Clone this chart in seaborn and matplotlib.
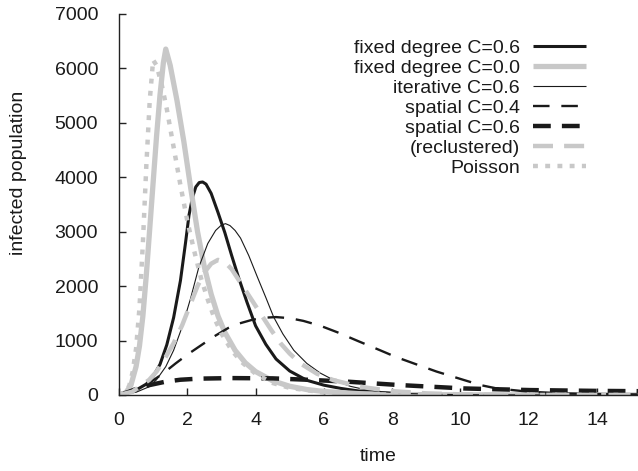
import matplotlib
matplotlib.use("Agg")
import matplotlib.pyplot as plt
import seaborn as sns

# ---- data ----
fd06_t = [0, 0.5, 0.8, 1.0, 1.2, 1.4, 1.6, 1.8, 1.95, 2.05, 2.15, 2.25, 2.35, 2.45, 2.55, 2.7, 2.9, 3.1,
          3.3, 3.5, 3.75, 4.0, 4.3, 4.6, 5.0, 5.5, 6.0, 6.5, 7.0, 8.0, 9.0, 10.0, 12.0, 15.2]
fd06_y = [0, 90, 200, 340, 560, 920, 1420, 2100, 2800, 3300, 3620, 3820, 3900, 3910, 3870, 3700, 3350, 2980,
          2560, 2160, 1700, 1270, 930, 660, 440, 270, 180, 120, 75, 30, 12, 4, 0, 0]

fd00_t = [0, 0.2, 0.35, 0.5, 0.6, 0.7, 0.8, 0.9, 1.0, 1.1, 1.2, 1.3, 1.37, 1.5, 1.7, 1.9, 2.1, 2.3, 2.5,
          2.7, 2.9, 3.1, 3.4, 3.7, 4.0, 4.5, 5.0, 5.5, 6.0, 7.0, 8.0, 10.0, 15.2]
fd00_y = [0, 40, 180, 520, 900, 1450, 2200, 3050, 3900, 4750, 5500, 6100, 6350, 6050, 5400, 4650, 3800, 3000, 2350,
          1850, 1450, 1150, 820, 590, 430, 260, 160, 100, 65, 25, 10, 2, 0]

it06_t = [0, 0.5, 0.88, 1.1, 1.37, 1.6, 1.85, 2.1, 2.34, 2.6, 2.83, 3.0, 3.12, 3.25, 3.4, 3.56, 3.8, 4.05,
          4.3, 4.53, 4.8, 5.12, 5.5, 5.9, 6.3, 6.77, 7.2, 7.7, 8.5, 10.0, 12.0, 15.2]
it06_y = [0, 50, 150, 280, 520, 820, 1250, 1780, 2350, 2780, 3020, 3120, 3145, 3110, 3020, 2880, 2560, 2170,
          1790, 1430, 1120, 820, 580, 400, 270, 160, 100, 60, 25, 5, 0, 0]

sp04_t = [0, 0.5, 0.88, 1.3, 1.66, 2.0, 2.34, 2.8, 3.2, 3.51, 3.9, 4.3, 4.6, 5.0, 5.4, 5.9, 6.4, 7.0,
          7.65, 8.1, 8.63, 9.3, 10.1, 10.6, 11.06, 12.0, 13.0, 14.0, 15.2]
sp04_y = [0, 90, 215, 400, 580, 740, 885, 1080, 1230, 1310, 1380, 1420, 1430, 1410, 1360, 1270, 1150, 990,
          820, 700, 580, 430, 275, 180, 120, 60, 30, 18, 10]

sp06_t = [0, 0.3, 0.5, 0.88, 1.37, 1.8, 2.34, 3.3, 4.5, 5.5, 6.68, 8.14, 10.1, 12.04, 14.0, 15.2]
sp06_y = [0, 60, 110, 180, 245, 280, 300, 310, 305, 280, 245, 185, 120, 90, 75, 70]

recl_t = [0, 0.39, 0.88, 1.1, 1.37, 1.6, 1.85, 2.1, 2.3, 2.5, 2.7, 2.9, 3.1, 3.3, 3.56, 3.85, 4.14, 4.45,
          4.73, 5.0, 5.31, 5.8, 6.29, 7.07, 8.0, 9.0, 10.0, 12.0, 15.2]
recl_y = [0, 60, 275, 430, 700, 950, 1280, 1680, 2000, 2250, 2410, 2480, 2440, 2310, 2060, 1780, 1500, 1200,
          950, 760, 580, 390, 270, 150, 70, 30, 12, 2, 0]

pois_t = [0, 0.2, 0.3, 0.4, 0.5, 0.6, 0.7, 0.8, 0.9, 1.0, 1.1, 1.25, 1.4, 1.6, 1.8, 2.0, 2.2, 2.4, 2.6,
          2.8, 3.0, 3.3, 3.6, 4.0, 4.5, 5.0, 6.0, 7.0, 8.0, 10.0, 15.2]
pois_y = [0, 60, 170, 420, 850, 1600, 2800, 4200, 5400, 6150, 6050, 5700, 5250, 4550, 3850, 3200, 2650, 2150, 1750,
          1400, 1130, 820, 600, 390, 220, 130, 45, 15, 5, 1, 0]

labels = ["fixed degree C=0.6", "fixed degree C=0.0", "iterative C=0.6",
          "spatial C=0.4", "spatial C=0.6", "(reclustered)", "Poisson"]
x_ticks = [0, 2, 4, 6, 8, 10, 12, 14]
y_ticks = [0, 1000, 2000, 3000, 4000, 5000, 6000, 7000]

# ---- style ----
sns.set_style("ticks")
plt.rcParams['font.family'] = ['Liberation Sans', 'DejaVu Sans']
BLACK = "#1a1a1a"
GREY = "#c8c8c8"

series = [
    (fd06_t, fd06_y, BLACK, 2.2, None),
    (fd00_t, fd00_y, GREY, 3.8, None),
    (it06_t, it06_y, BLACK, 0.8, None),
    (sp04_t, sp04_y, BLACK, 1.7, (7, 5)),
    (sp06_t, sp06_y, BLACK, 3.2, (4, 2.5)),
    (recl_t, recl_y, GREY, 3.2, (4.5, 2.5)),
    (pois_t, pois_y, GREY, 3.2, (1.1, 1.65)),
]

fig = plt.figure(figsize=(6.38, 4.71), dpi=100)
ax = fig.add_axes([0.1865, 0.1614, 0.8135, 0.8096])

for (t, y, c, lw, d), lab in zip(series, labels):
    sns.lineplot(x=t, y=y, ax=ax, color=c, linewidth=lw, label=lab, sort=False)
    line = ax.lines[-1]
    line.set_solid_capstyle('butt')
    line.set_solid_joinstyle('round')
    if d is not None:
        line.set_dashes(d)
        line.set_dash_capstyle('butt')

ax.set_xlim(0, 15.2)
ax.set_ylim(0, 7000)
ax.set_xticks(x_ticks)
ax.set_yticks(y_ticks)
ax.tick_params(direction='in', length=5, width=1.0, color="#222222",
               labelsize=14, labelcolor="#1a1a1a")
ax.tick_params(axis='y', pad=15)
ax.tick_params(axis='x', pad=12)

for s in ['top', 'right']:
    ax.spines[s].set_visible(False)
for s in ['left', 'bottom']:
    ax.spines[s].set_linewidth(1.0)
    ax.spines[s].set_color("#222222")

ax.set_xlabel("time", fontsize=14, color="#1a1a1a")
ax.xaxis.set_label_coords(0.5, -0.139)
ax.set_ylabel("infected population", fontsize=14, color="#1a1a1a")
ax.yaxis.label.set_verticalalignment('center')
ax.yaxis.set_label_coords(-0.194, 0.5835)

leg = ax.legend(loc='upper right', bbox_to_anchor=(0.8998, 0.9327), frameon=False,
                markerfirst=False, fontsize=14, handlelength=2.73, handletextpad=0.67,
                labelspacing=0.12, borderpad=0, borderaxespad=0)
for txt in leg.get_texts():
    txt.set_color("#1a1a1a")

fig.savefig("out.png", dpi=100)
